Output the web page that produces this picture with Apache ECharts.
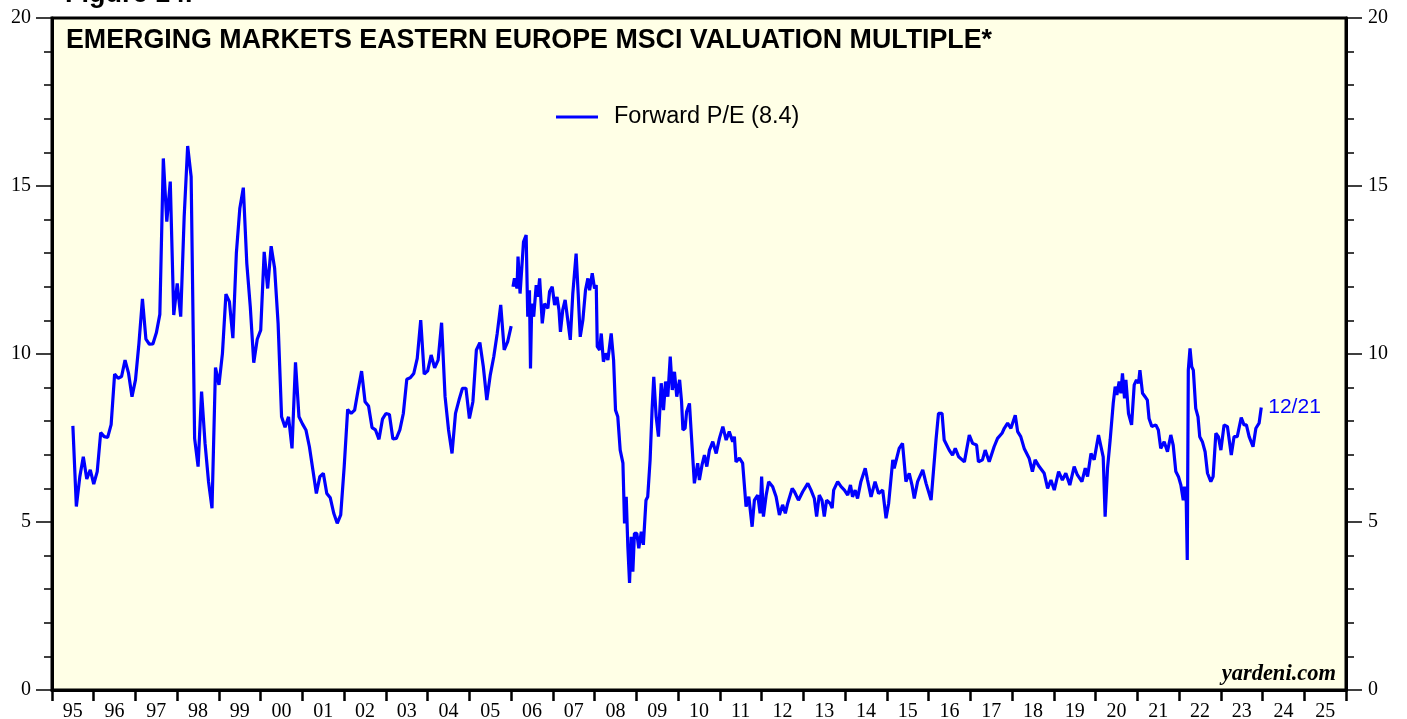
<!DOCTYPE html>
<html>
<head>
<meta charset="utf-8">
<title>Emerging Markets Eastern Europe MSCI Valuation Multiple</title>
<script src="https://cdn.jsdelivr.net/npm/echarts@6/dist/echarts.min.js"></script>
<style>
  html, body { margin: 0; padding: 0; background: #fff; }
  #chart { width: 1407px; height: 719px; }
</style>
</head>
<body>
<div id="chart"></div>
<script>
// older history is monthly (month-end), Jun 1995 .. Dec 2005
const monthlyStart = '1995-06'
const monthlyPE = [
  7.86, 5.46, 6.35, 6.94, 6.28, 6.55, 6.13, 6.5, 7.66, 7.54, 7.52, 7.9,
  9.4, 9.28, 9.33, 9.82, 9.43, 8.73, 9.23, 10.32, 11.64, 10.44, 10.29, 10.3,
  10.63, 11.18, 15.82, 13.94, 15.13, 11.16, 12.1, 11.11, 14.09, 16.19, 15.28, 7.49,
  6.65, 8.88, 7.34, 6.2, 5.41, 9.6, 9.08, 10.02, 11.78, 11.56, 10.47, 13.0,
  14.34, 14.95, 12.7, 11.41, 9.74, 10.44, 10.71, 13.04, 11.95, 13.21, 12.55, 10.91,
  8.13, 7.82, 8.13, 7.19, 9.75, 8.13, 7.92, 7.74, 7.24, 6.55, 5.85, 6.35,
  6.45, 5.85, 5.72, 5.26, 4.96, 5.21, 6.65, 8.35, 8.23, 8.33, 8.93, 9.49,
  8.58, 8.45, 7.81, 7.74, 7.46, 8.06, 8.23, 8.2, 7.47, 7.49, 7.74, 8.23,
  9.25, 9.29, 9.42, 9.87, 11.01, 9.4, 9.5, 9.97, 9.59, 9.82, 10.93, 8.73,
  7.74, 7.04, 8.23, 8.63, 8.98, 8.98, 8.08, 8.58, 10.12, 10.34, 9.62, 8.63,
  9.38, 9.92, 10.62, 11.46, 10.12, 10.37, 10.83
]

// weekly series from 2006, sampled off the chart
const weeklyDates = [
  '2006-01-17', '2006-01-30', '2006-02-21', '2006-03-02', '2006-03-20', '2006-04-19', '2006-05-12', '2006-05-26',
  '2006-06-10', '2006-06-19', '2006-06-30', '2006-07-17', '2006-08-08', '2006-08-22', '2006-09-07', '2006-09-30',
  '2006-10-20', '2006-11-18', '2006-12-03', '2006-12-26',
  '2007-01-16', '2007-02-06', '2007-02-23', '2007-03-08', '2007-03-28', '2007-04-18', '2007-05-11', '2007-06-02',
  '2007-06-24', '2007-07-23', '2007-08-10', '2007-08-28', '2007-09-20', '2007-10-13', '2007-11-03', '2007-11-18',
  '2007-12-11', '2007-12-31',
  '2008-01-15', '2008-01-24', '2008-02-14', '2008-02-28', '2008-03-18', '2008-04-06', '2008-04-26', '2008-05-25',
  '2008-06-15', '2008-07-02', '2008-07-22', '2008-08-12', '2008-09-05', '2008-09-19', '2008-10-04', '2008-10-18',
  '2008-11-02', '2008-11-17', '2008-12-01', '2008-12-15',
  '2009-01-05', '2009-01-22', '2009-02-13', '2009-03-03', '2009-03-26', '2009-04-10', '2009-05-01', '2009-05-18',
  '2009-06-02', '2009-06-23', '2009-07-13', '2009-08-06', '2009-08-26', '2009-09-13', '2009-10-03', '2009-10-24',
  '2009-11-11', '2009-11-30', '2009-12-20',
  '2010-01-14', '2010-01-31', '2010-02-12', '2010-03-03', '2010-03-16', '2010-04-10', '2010-04-24', '2010-05-23',
  '2010-06-21', '2010-07-06', '2010-07-29', '2010-08-19', '2010-09-09', '2010-10-02', '2010-10-31', '2010-11-30',
  '2010-12-28',
  '2011-01-27', '2011-02-25', '2011-03-24', '2011-04-23', '2011-05-08', '2011-05-22', '2011-06-21', '2011-07-19',
  '2011-08-04', '2011-08-18', '2011-09-11', '2011-10-10', '2011-10-30', '2011-11-28', '2011-12-19',
  '2012-01-01', '2012-01-17', '2012-02-10', '2012-03-03', '2012-04-07', '2012-05-07', '2012-06-05', '2012-07-03',
  '2012-07-27', '2012-08-17', '2012-09-25', '2012-10-15', '2012-11-19', '2012-12-26',
  '2013-02-09', '2013-03-09', '2013-04-07', '2013-04-27', '2013-05-20', '2013-06-13', '2013-07-03', '2013-07-23',
  '2013-08-22', '2013-09-10', '2013-09-23', '2013-10-28', '2013-11-27', '2013-12-26',
  '2014-01-24', '2014-02-17', '2014-03-07', '2014-03-30', '2014-04-20', '2014-05-19', '2014-06-26', '2014-07-16',
  '2014-08-16', '2014-09-20', '2014-10-21', '2014-11-26', '2014-12-25',
  '2015-01-17', '2015-02-22', '2015-03-06', '2015-04-19', '2015-05-18', '2015-06-17', '2015-07-16', '2015-08-09',
  '2015-08-29', '2015-09-27', '2015-11-11', '2015-12-10',
  '2016-01-23', '2016-03-06', '2016-03-28', '2016-04-28', '2016-05-17', '2016-06-30', '2016-07-29', '2016-08-22',
  '2016-09-21', '2016-11-10', '2016-12-23',
  '2017-01-21', '2017-02-25', '2017-03-13', '2017-04-17', '2017-05-11', '2017-06-15', '2017-07-28', '2017-08-27',
  '2017-10-05', '2017-10-25', '2017-11-23', '2017-12-22',
  '2018-01-29', '2018-02-19', '2018-03-18', '2018-04-17', '2018-05-30', '2018-06-28', '2018-07-22', '2018-08-26',
  '2018-10-09', '2018-11-08', '2018-12-07',
  '2019-01-05', '2019-02-12', '2019-03-17', '2019-04-16', '2019-05-21', '2019-06-28', '2019-07-26', '2019-09-04',
  '2019-10-03', '2019-10-23', '2019-11-22', '2019-12-20',
  '2020-01-27', '2020-02-18', '2020-03-08', '2020-03-25', '2020-04-15', '2020-05-08', '2020-06-04', '2020-06-21',
  '2020-07-06', '2020-07-26', '2020-08-10', '2020-08-24', '2020-09-11', '2020-09-23', '2020-10-16', '2020-11-12',
  '2020-12-05', '2020-12-25',
  '2021-01-12', '2021-01-24', '2021-02-16', '2021-03-10', '2021-03-30', '2021-04-14', '2021-05-08', '2021-06-12',
  '2021-07-04', '2021-07-25', '2021-08-24', '2021-09-22', '2021-10-21', '2021-11-11', '2021-12-04', '2021-12-27',
  '2022-01-17', '2022-02-07', '2022-02-18', '2022-03-05', '2022-03-14', '2022-03-23', '2022-04-07', '2022-04-22',
  '2022-05-06', '2022-05-27', '2022-06-16', '2022-07-01', '2022-07-24', '2022-08-17', '2022-09-07', '2022-10-06',
  '2022-10-26', '2022-11-19', '2022-12-11',
  '2023-01-02', '2023-01-30', '2023-02-28', '2023-04-03', '2023-04-27', '2023-05-25', '2023-06-29', '2023-07-23',
  '2023-08-13', '2023-09-06', '2023-10-10', '2023-11-04', '2023-12-02', '2023-12-21'
]
const weeklyPE = [
  12.0, 12.25, 11.95, 12.9, 11.8, 13.34, 13.54, 11.11,
  11.9, 9.57, 11.5, 11.11, 12.05, 11.7, 12.25, 10.91,
  11.5, 11.36, 11.86, 12.0,
  11.46, 11.7, 11.31, 10.66, 11.31, 11.61, 11.01, 10.42,
  11.8, 12.99, 11.8, 10.51, 11.01, 11.9, 12.25, 11.9,
  12.4, 11.95,
  12.05, 10.22, 10.12, 10.61, 9.77, 10.02, 9.82, 10.61,
  9.82, 8.33, 8.13, 7.14, 6.75, 4.96, 5.75, 4.27,
  3.19, 4.56, 3.52, 4.66,
  4.66, 4.22, 4.71, 4.32, 5.65, 5.75, 6.85, 8.33,
  9.32, 8.13, 7.54, 9.13, 8.33, 9.18, 8.73, 9.92,
  8.93, 9.47, 8.73,
  9.23, 8.58, 7.74, 7.79, 8.28, 8.53, 7.74, 6.15,
  6.75, 6.25, 6.7, 6.99, 6.65, 7.14, 7.39, 7.04,
  7.49,
  7.84, 7.44, 7.69, 7.39, 7.54, 6.79, 6.9, 6.75,
  6.75, 5.46, 5.75, 4.86, 5.65, 5.8, 5.26,
  6.35, 5.16, 5.8, 6.2, 6.05, 5.75, 5.21, 5.51,
  5.26, 5.56, 6.0, 5.9, 5.65, 5.9,
  6.15, 5.95, 5.7, 5.16, 5.8, 5.65, 5.16, 5.65,
  5.56, 5.41, 5.95, 6.2, 6.05, 5.95,
  5.8, 6.1, 5.75, 5.95, 5.7, 6.2, 6.6, 6.25,
  5.75, 6.2, 5.85, 5.95, 5.11,
  5.56, 6.85, 6.6, 7.19, 7.34, 6.2, 6.45, 6.1,
  5.7, 6.2, 6.55, 6.15,
  5.65, 7.44, 8.23, 8.23, 7.44, 7.14, 6.99, 7.19,
  6.94, 6.79, 7.59,
  7.34, 7.29, 6.79, 6.85, 7.14, 6.79, 7.24, 7.49,
  7.64, 7.79, 7.94, 7.79,
  8.18, 7.69, 7.54, 7.19, 6.9, 6.5, 6.85, 6.65,
  6.45, 6.0, 6.25,
  5.95, 6.5, 6.25, 6.45, 6.1, 6.65, 6.4, 6.2,
  6.6, 6.35, 7.04, 6.85,
  7.59, 7.24, 6.94, 5.16, 6.6, 7.44, 8.53, 9.03,
  8.78, 9.18, 8.83, 9.42, 8.68, 9.23, 8.23, 7.89,
  9.08, 9.23,
  9.13, 9.52, 8.83, 8.73, 8.63, 8.08, 7.84, 7.89,
  7.74, 7.19, 7.39, 7.09, 7.59, 7.29, 6.5, 6.35,
  6.1, 5.65, 6.05, 5.6, 3.87, 9.52, 10.17, 9.62,
  9.52, 8.38, 8.13, 7.54, 7.39, 7.09, 6.45, 6.2,
  6.35, 7.64, 7.54,
  7.14, 7.89, 7.84, 6.99, 7.54, 7.54, 8.11, 7.89,
  7.89, 7.54, 7.24, 7.79, 7.94, 8.41
]

const yearLabels = ['95', '96', '97', '98', '99', '00', '01', '02', '03', '04', '05', '06', '07', '08', '09',
  '10', '11', '12', '13', '14', '15', '16', '17', '18', '19', '20', '21', '22', '23', '24', '25']

// date string -> fractional year, so the x axis can tick on whole years
function toYear(s) {
  const d = new Date(s + 'T00:00:00Z')
  const y = d.getUTCFullYear()
  const a = Date.UTC(y, 0, 1)
  const b = Date.UTC(y + 1, 0, 1)
  return y + (d.getTime() - a) / (b - a)
}

const startY = +monthlyStart.slice(0, 4)
const startM = +monthlyStart.slice(5, 7)
// month-end points
const monthlyData = monthlyPE.map((v, i) => [startY + (startM + i) / 12, v])
const weeklyData = weeklyDates.map((d, i) => [toYear(d), weeklyPE[i]])

const serif = '"Liberation Serif", "Times New Roman", serif'
const sans = '"Liberation Sans", Arial, sans-serif'
const blue = '#0000ff'

function yAxisOpt(pos, margin) {
  return {
    type: 'value',
    position: pos,
    min: 0,
    max: 20,
    interval: 5,
    axisLine: { show: true, lineStyle: { color: '#000', width: 3 } },
    axisTick: { show: true, length: 16, lineStyle: { color: '#000', width: 1.5 } },
    minorTick: { show: true, splitNumber: 5, length: 8, lineStyle: { color: '#000', width: 1.5 } },
    axisLabel: { color: '#000', fontFamily: serif, fontSize: 20, margin: margin },
    splitLine: { show: false }
  }
}

const chart = echarts.init(document.getElementById('chart'))
chart.setOption({
  animation: false,
  backgroundColor: '#fff',
  grid: {
    left: 52,
    right: 61,
    top: 18,
    bottom: 29,
    outerBoundsMode: 'none',
    show: true,
    backgroundColor: '#ffffe6',
    borderColor: '#000',
    borderWidth: 3
  },
  title: {
    text: 'EMERGING MARKETS EASTERN EUROPE MSCI VALUATION MULTIPLE*',
    left: 66,
    top: 27,
    padding: 0,
    textStyle: { fontFamily: sans, fontWeight: 'bold', fontSize: 26.8, color: '#000' }
  },
  legend: {
    left: 556,
    top: 105,
    padding: 0,
    icon: 'rect',
    itemWidth: 42,
    itemHeight: 3,
    data: ['Forward P/E (8.4)'],
    textStyle: { fontFamily: sans, fontSize: 23.5, color: '#000', padding: [0, 0, 0, 11] }
  },
  xAxis: [
    {
      type: 'value',
      position: 'bottom',
      min: 1995,
      max: 2026,
      interval: 1,
      axisLine: { show: true, lineStyle: { color: '#000', width: 3 } },
      axisTick: { show: true, length: 11, lineStyle: { color: '#000', width: 2.5 } },
      axisLabel: { show: false },
      splitLine: { show: false }
    },
    {
      type: 'category',
      position: 'bottom',
      data: yearLabels,
      boundaryGap: true,
      axisLine: { show: false },
      axisTick: { show: false },
      axisLabel: { interval: 0, color: '#000', fontFamily: serif, fontSize: 20, margin: 12 }
    }
  ],
  yAxis: [yAxisOpt('left', 21), yAxisOpt('right', 22)],
  graphic: [
    {
      type: 'text',
      left: 65,
      top: -19,
      style: { text: 'Figure 14.', font: 'bold 27px ' + sans, fill: '#000' }
    },
    {
      type: 'text',
      right: 71,
      top: 663,
      style: { text: 'yardeni.com', font: 'italic bold 22.5px ' + serif, fill: '#000' }
    }
  ],
  series: [
    {
      name: 'Forward P/E (8.4)',
      type: 'line',
      data: monthlyData,
      showSymbol: false,
      color: blue,
      lineStyle: { color: blue, width: 3.2 }
    },
    {
      name: 'Forward P/E (8.4)',
      type: 'line',
      data: weeklyData,
      showSymbol: false,
      color: blue,
      lineStyle: { color: blue, width: 3.2 },
      endLabel: {
        show: true,
        formatter: '12/21',
        color: blue,
        fontFamily: sans,
        fontSize: 21,
        distance: 7
      }
    }
  ]
})
</script>
</body>
</html>
